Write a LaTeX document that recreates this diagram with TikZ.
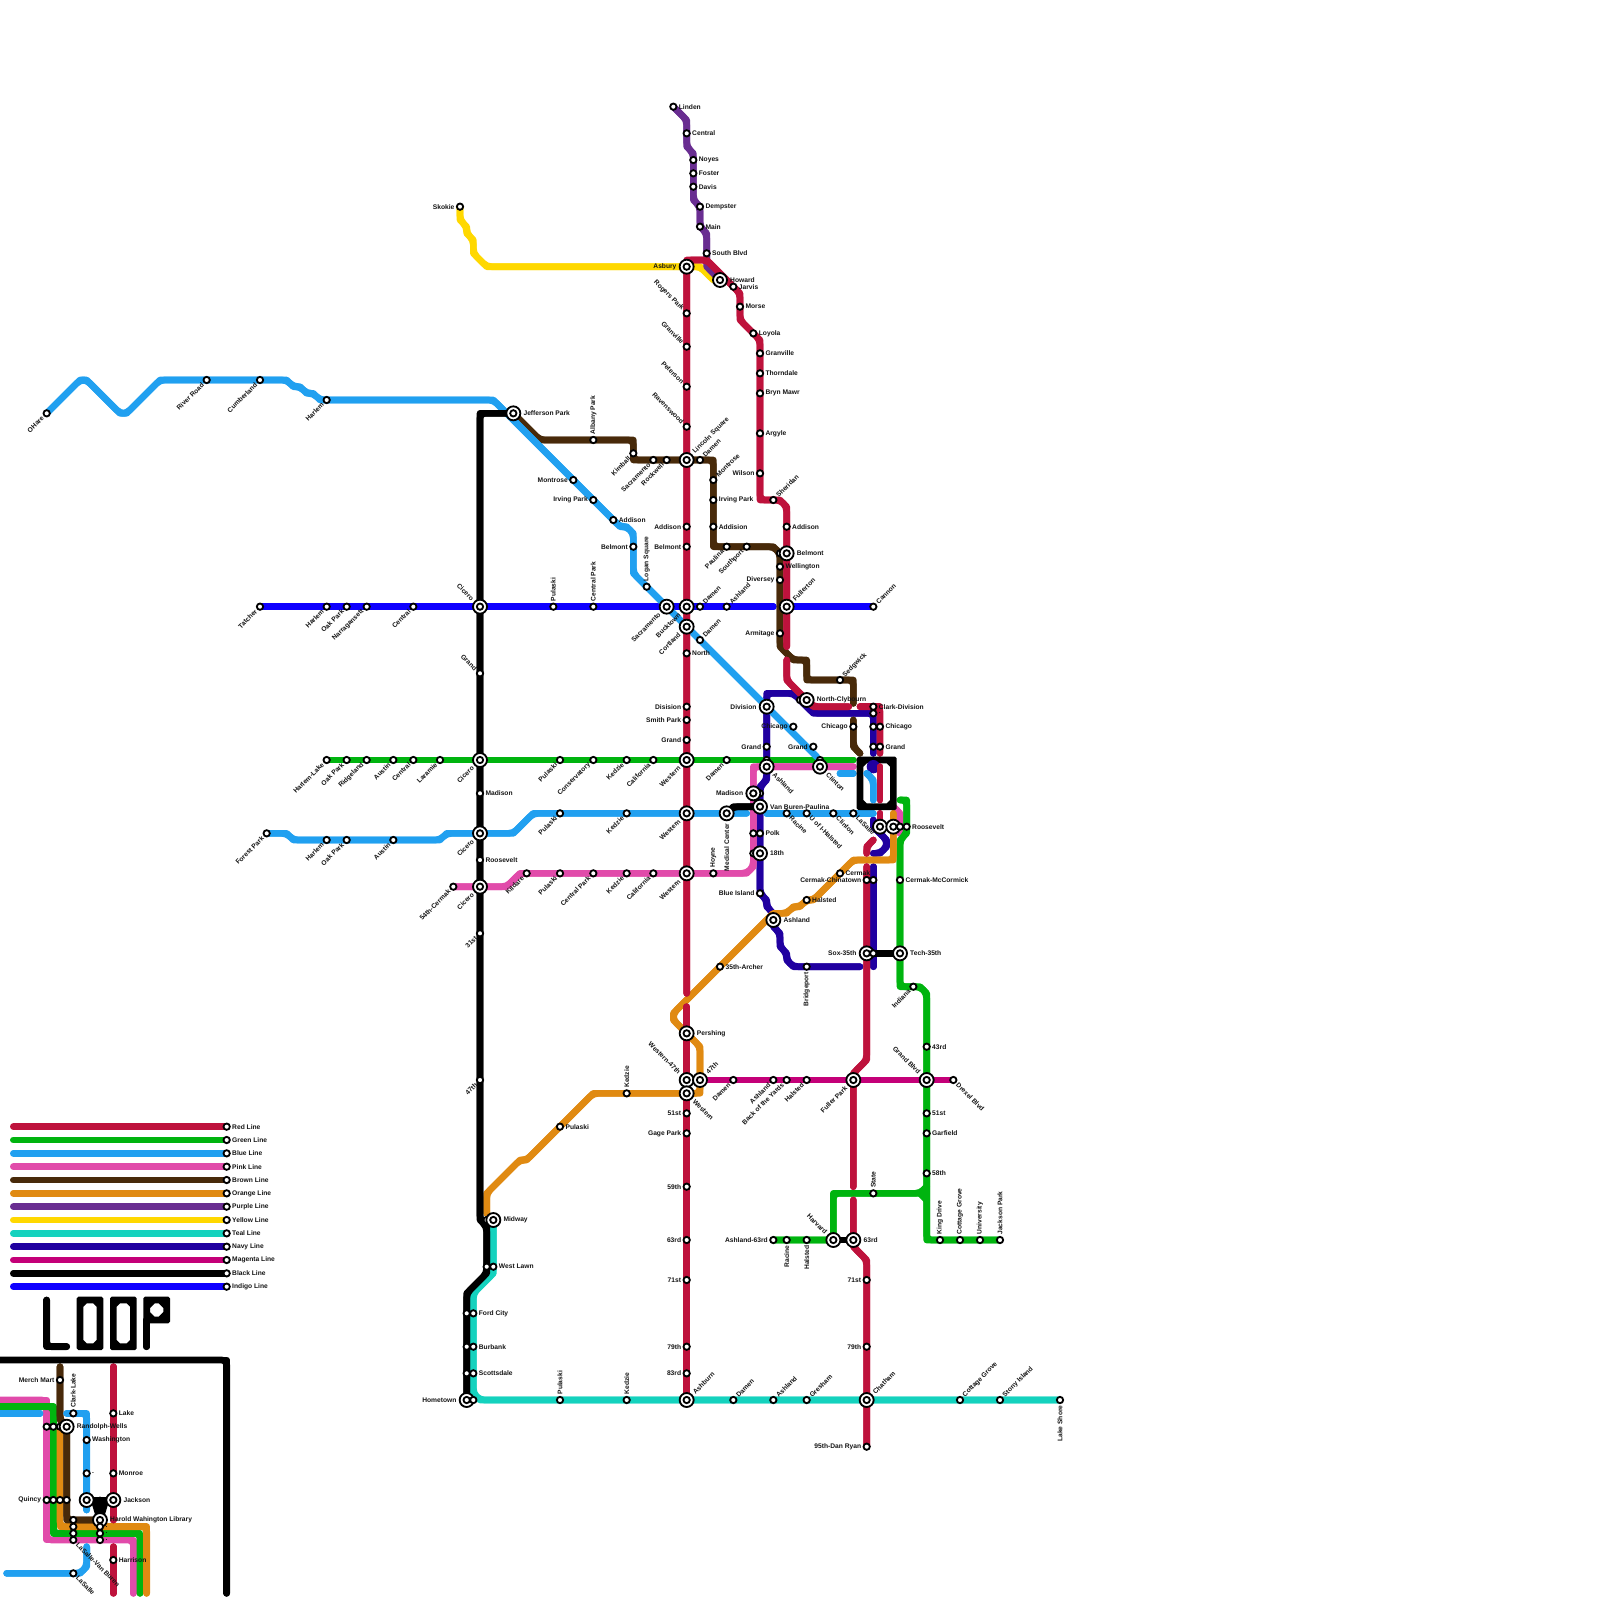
\documentclass[tikz,border=0pt]{standalone}
\usepackage{fontspec}
\setmainfont{Liberation Sans}
\definecolor{cRed}{RGB}{190,18,60}
\definecolor{cGreen}{RGB}{0,180,15}
\definecolor{cBlue}{RGB}{33,160,240}
\definecolor{cPink}{RGB}{225,75,170}
\definecolor{cBrown}{RGB}{72,42,10}
\definecolor{cOrange}{RGB}{224,138,18}
\definecolor{cPurple}{RGB}{105,45,145}
\definecolor{cYellow}{RGB}{255,216,0}
\definecolor{cTeal}{RGB}{20,210,190}
\definecolor{cNavy}{RGB}{32,0,160}
\definecolor{cMagenta}{RGB}{196,0,120}
\definecolor{cIndigo}{RGB}{15,0,255}
\newcounter{sc}
\def\lo{.8}
\tikzset{
 trkline/.style={line width=.2cm,line cap=round,line join=round},
 smallst/.style={circle,draw=black,fill=white,line width=.055cm,minimum size=.19cm,inner sep=0pt},
 bigst/.style={circle,draw=black,fill=white,line width=.055cm,minimum size=.42cm,inner sep=0pt},
 lab/.style={inner sep=0pt,font=\fontsize{5.7}{6}\selectfont\bfseries,text=black!92},
 lR/.style={shift={(\lo,0)},anchor=west},
 lL/.style={shift={(-\lo,0)},anchor=east},
 lA/.style={shift={(0,-\lo)},rotate=90,anchor=west},
 lB/.style={shift={(0,\lo)},rotate=90,anchor=east},
 lNE/.style={shift={(.707*\lo,-.707*\lo)},rotate=45,anchor=west},
 lSW/.style={shift={(-.707*\lo,.707*\lo)},rotate=45,anchor=east},
 lNW/.style={shift={(-.707*\lo,-.707*\lo)},rotate=-45,anchor=east},
 lSE/.style={shift={(.707*\lo,.707*\lo)},rotate=-45,anchor=west},
}
\newcommand\trk[2]{\draw[trkline,#1] #2;\draw[trkline,#1,rounded corners=.14cm] #2;}
\newcommand\putlab[4]{\if\relax\detokenize{#4}\relax\else\node[lab,l#3] (t\thesc) at (#1,#2) {#4};\fi}
\newcommand\stn[4]{\stepcounter{sc}\def\lo{.8}\node[smallst] (s\thesc) at (#1,#2) {};\putlab{#1}{#2}{#3}{#4}}
\newcommand\hubn[4]{\stepcounter{sc}\def\lo{1.5}\node[bigst] (h\thesc) at (#1,#2) {};\node[smallst] (s\thesc) at (#1,#2) {};\putlab{#1}{#2}{#3}{#4}}
\begin{document}
\begin{tikzpicture}[x=.2cm,y=-.2cm]
\useasboundingbox (0,0) rectangle (240,240);
% legend
\foreach \yy/\cc in {169/cRed,171/cGreen,173/cBlue,175/cPink,177/cBrown,179/cOrange,181/cPurple,183/cYellow,185/cTeal,187/cNavy,189/cMagenta,191/black,193/cIndigo}{
 \draw[trkline,\cc] (2,\yy) -- (34,\yy);
}
% yellow
\trk{cYellow}{(69,31)--(69,33)--(70,34)--(70,35)--(71,36)--(71,38)--(73,40)--(105,40)--(107,42)--(108,42)}
% purple
\trk{cPurple}{(101,16)--(103,18)--(103,22)--(104,23)--(104,30)--(105,31)--(105,34)--(106,35)--(106,40)--(108,42)}
% teal
\trk{cTeal}{(74,183)--(74,191)--(71,194)--(71,209)--(72,210)--(159,210)}
% magenta
\trk{cMagenta}{(103,162)--(143,162)}
% indigo
\trk{cIndigo}{(39,91)--(116,91)}
\trk{cIndigo}{(118,91)--(131,91)}
% navy
\trk{cNavy}{(131,113)--(131,107)--(122,107)--(119,104)--(115,104)--(115,117)--(114,118)--(114,134)--(115,135)--(115,136)--(116,137)--(116,139)--(117,140)--(117,142)--(118,143)--(118,144)--(119,145)--(129,145)}
\trk{cNavy}{(131,123)--(131,124)--(133,126)--(133,127)--(132,128)--(131,128)}
\trk{cNavy}{(131,130)--(131,145)}
% pink
\trk{cPink}{(-1,210)--(7,210)--(7,231)--(20,231)--(20,239)}
\trk{cPink}{(68,133)--(76,133)--(78,131)--(112,131)--(113,130)--(113,115)--(128,115)}
\trk{cPink}{(134,121)--(135,122)--(135,125)}
% green
\trk{cGreen}{(-1,211)--(8,211)--(8,230)--(21,230)--(21,239)}
\trk{cGreen}{(49,114)--(128,114)}
\trk{cGreen}{(135,120)--(136,120)--(136,125)--(135,126)--(135,148)--(138,148)--(139,149)--(139,186)--(150,186)}
\trk{cGreen}{(139,178)--(138,179)--(125,179)--(125,186)--(116,186)}
\draw[trkline,cGreen] (138,179) -- (139,180);
% orange
\trk{cOrange}{(9,214)--(9,229)--(22,229)--(22,239)}
\trk{cOrange}{(73,182)--(73,179)--(78,174)--(79,174)--(89,164)--(105,164)--(105,157)--(103,155)--(101,153)--(101,152)--(116,137)--(118,137)--(119,136)--(120,136)--(121,135)--(122,135)--(128,129)--(134,129)--(134,122)}
% brown
\trk{cBrown}{(9,205)--(9,213)--(10,214)--(10,228)--(15,228)}
\trk{cBrown}{(77,62)--(81,66)--(95,66)--(95,69)--(107,69)--(107,82)--(116,82)--(117,83)--(117,97)--(119,99)--(121,99)--(121,102)--(128,102)--(128,105.5)}
\trk{cBrown}{(128,108)--(128,112)--(129,113)}
% blue
\trk{cBlue}{(7,62)--(12,57)--(13,57)--(18,62)--(19,62)--(24,57)--(43,57)--(44,58)--(45,58)--(46,59)--(47,59)--(48,60)--(74,60)--(92,78)--(93,79)--(94,79)--(95,80)--(95,86)--(122.5,113.5)}
\trk{cBlue}{(40,125)--(43,125)--(44,126)--(66,126)--(67,125)--(77,125)--(80,122)--(112,122)}
\trk{cBlue}{(115,122)--(131,122)}
\trk{cBlue}{(-1,212)--(6,212)}
\trk{cBlue}{(10,212)--(13,212)--(13,226.5)}
\trk{cBlue}{(1,236)--(12,236)--(13,235)--(13,232)}
\trk{cBlue}{(126,116)--(128,116)}
% red
\trk{cRed}{(103,149)--(103,39)--(106,39)--(110,43)--(111,44)--(111,48)--(114,51)--(114,75)--(117,75)--(118,76)--(118,97)}
\trk{cRed}{(103,151)--(103,210)}
\trk{cRed}{(118,99)--(118,102)--(121,105)--(122,106)--(127.3,106)}
\trk{cRed}{(129,106)--(132,106)--(132,113)}
\trk{cRed}{(132,122)--(132,124)}
\trk{cRed}{(131,126)--(130,127)--(130,128)}
\trk{cRed}{(130,130)--(130,159)--(128,161)--(128,178)}
\trk{cRed}{(128,180)--(128,187)--(130,189)--(130,217)}
\trk{cRed}{(17,205)--(17,228)}
\trk{cRed}{(17,232)--(17,239)}
% black
\trk{black}{(-1,204)--(34,204)--(34,239)}
\trk{black}{(77,62)--(72,62)--(72,183)--(73,184)--(73,191)--(70,194)--(70,210)}
\trk{black}{(109,122)--(110,121)--(114,121)}
\trk{black}{(125,186)--(128,186)}
\trk{black}{(131,143)--(135,143)}
\trk{black}{(13,225)--(17,225)}
\trk{black}{(15,225)--(15,228)}
\fill[black] (13.6,225) -- (14.5,228) -- (15.5,228) -- (16.4,225) -- cycle;
% central loop block
\fill[black,even odd rule] [rounded corners=.05cm] (128.5,113.5) rectangle (134.5,121.5) [sharp corners] (130,114.5)--(133,114.5)--(133.5,115)--(133.5,120)--(133,120.5)--(130,120.5)--(129.5,120)--(129.5,115)--cycle;
\fill[cNavy] (131,115) circle (1);
\trk{cBlue}{(130,116)--(131,117)--(131,120)}
\trk{cRed}{(132,115)--(132,120)}
% LOOP
\trk{black}{(7,195)--(7,202)--(10,202)}
\fill[black,even odd rule] [rounded corners=.05cm] (11.5,194.5) rectangle (15.5,202.5) [sharp corners] (13,195.5)--(14,195.5)--(14.5,196)--(14.5,201)--(14,201.5)--(13,201.5)--(12.5,201)--(12.5,196)--cycle;
\fill[black,even odd rule] [rounded corners=.05cm] (16.5,194.5) rectangle (20.5,202.5) [sharp corners] (18,195.5)--(19,195.5)--(19.5,196)--(19.5,201)--(19,201.5)--(18,201.5)--(17.5,201)--(17.5,196)--cycle;
\fill[black,even odd rule] [rounded corners=.05cm] (21.5,194.5) rectangle (25.5,198.5) [sharp corners] (23.2,195.5)--(23.8,195.5)--(24.5,196.2)--(24.5,196.8)--(23.8,197.5)--(23.2,197.5)--(22.5,196.8)--(22.5,196.2)--cycle;
\trk{black}{(22,198)--(22,202)}
% legend stations
\stn{34}{169}{R}{Red Line}\stn{34}{171}{R}{Green Line}\stn{34}{173}{R}{Blue Line}\stn{34}{175}{R}{Pink Line}
\stn{34}{177}{R}{Brown Line}\stn{34}{179}{R}{Orange Line}\stn{34}{181}{R}{Purple Line}\stn{34}{183}{R}{Yellow Line}
\stn{34}{185}{R}{Teal Line}\stn{34}{187}{R}{Navy Line}\stn{34}{189}{R}{Magenta Line}\stn{34}{191}{R}{Black Line}\stn{34}{193}{R}{Indigo Line}
% loop stations
\stn{9}{207}{L}{Merch Mart}\stn{11}{212}{A}{Clark-Lake}\stn{17}{212}{R}{Lake}
\stn{7}{214}{R}{}\stn{8}{214}{R}{}\stn{9}{214}{R}{}\hubn{10}{214}{R}{Randolph-Wells}
\stn{13}{216}{R}{Washington}\stn{13}{221}{R}{.}\stn{17}{221}{R}{Monroe}
\stn{7}{225}{L}{Quincy}\stn{8}{225}{R}{}\stn{9}{225}{R}{}\stn{10}{225}{R}{}
\hubn{13}{225}{R}{}\hubn{17}{225}{R}{Jackson}
\stn{11}{228}{R}{}\stn{11}{229}{R}{}\stn{11}{230}{R}{}\stn{11}{231}{SE}{LaSalle-Van Buren}
\hubn{15}{228}{R}{Harold Wahington Library}\stn{15}{229}{R}{.}\stn{15}{230}{R}{.}\stn{15}{231}{R}{.}
\stn{17}{234}{R}{Harrison}\stn{11}{236}{SE}{LaSalle}
% yellow/purple
\stn{69}{31}{L}{Skokie}\stn{101}{16}{R}{Linden}\stn{103}{20}{R}{Central}\stn{104}{24}{R}{Noyes}\stn{104}{26}{R}{Foster}\stn{104}{28}{R}{Davis}\stn{105}{31}{R}{Dempster}\stn{105}{34}{R}{Main}\stn{106}{38}{R}{South Blvd}
\hubn{103}{40}{L}{Asbury}\hubn{108}{42}{R}{\raisebox{.5pt}{Howard}}
\stn{110}{43}{R}{Jarvis}\stn{111}{46}{R}{Morse}\stn{113}{50}{R}{Loyola}\stn{114}{53}{R}{Granville}\stn{114}{56}{R}{Thorndale}\stn{114}{59}{R}{Bryn Mawr}\stn{114}{65}{R}{Argyle}\stn{114}{71}{L}{Wilson}
\stn{116}{75}{NE}{Sheridan}\stn{118}{79}{R}{Addison}\stn{117}{83}{R}{}\hubn{118}{83}{R}{Belmont}\stn{117}{85}{R}{Wellington}\stn{117}{87}{L}{Diversey}\hubn{118}{91}{NE}{Fullerton}\stn{117}{95}{L}{Armitage}
\stn{131}{91}{NE}{Cannon}\stn{126}{102}{NE}{Sedgwick}\stn{120}{105}{R}{}\hubn{121}{105}{R}{North-Clybourn}
% west red
\stn{103}{47}{NW}{Rogers Park}\stn{103}{52}{NW}{Granville}\stn{103}{58}{NW}{Peterson}\stn{103}{64}{NW}{Ravenswood}
\hubn{103}{69}{NE}{Lincoln Square}\stn{105}{69}{NE}{Damen}\stn{107}{72}{NE}{Montrose}\stn{107}{75}{R}{Irving Park}\stn{107}{79}{R}{Addision}
\stn{109}{82}{SW}{Paulina}\stn{112}{82}{SW}{Southport}
\stn{103}{79}{L}{Addison}\stn{103}{82}{L}{Belmont}
\hubn{100}{91}{SW}{Sacramento}\hubn{103}{91}{SW}{Bucktown}\hubn{103}{94}{SW}{Cortland}\stn{105}{91}{NE}{Damen}\stn{109}{91}{NE}{Ashland}\stn{105}{96}{NE}{Damen}
\stn{103}{98}{R}{North}\stn{103}{106}{L}{Disision}\stn{103}{108}{L}{Smith Park}\stn{103}{111}{L}{Grand}
% brown/blue north-west
\hubn{77}{62}{R}{Jefferson Park}\stn{89}{66}{A}{Albany Park}\stn{95}{68}{SW}{Kimball}\stn{98}{69}{SW}{Sacramento}\stn{100}{69}{SW}{Rockwell}
\stn{86}{72}{L}{Montrose}\stn{89}{75}{L}{Irving Park}\stn{92}{78}{R}{Addison}\stn{95}{82}{L}{Belmont}\stn{97}{88}{A}{Logan Square}
\stn{7}{62}{SW}{OHare}\stn{31}{57}{SW}{River Road}\stn{39}{57}{SW}{Cumberland}\stn{49}{60}{SW}{Harlem}
% indigo
\stn{39}{91}{SW}{Tatcher}\stn{49}{91}{SW}{Harlem}\stn{52}{91}{SW}{Oak Park}\stn{55}{91}{SW}{Narragansett}\stn{62}{91}{SW}{Central}\hubn{72}{91}{NW}{Cicero}\stn{83}{91}{A}{Pulaski}\stn{89}{91}{A}{Central Park}
\stn{72}{101}{NW}{Grand}
% green
\stn{49}{114}{SW}{Harlem-Lake}\stn{52}{114}{SW}{Oak Park}\stn{55}{114}{SW}{Ridgeland}\stn{59}{114}{SW}{Austin}\stn{62}{114}{SW}{Central}\stn{66}{114}{SW}{Laramie}\hubn{72}{114}{SW}{Cicero}\stn{84}{114}{SW}{Pulaski}\stn{89}{114}{SW}{Conservatory}\stn{94}{114}{SW}{Kedzie}\stn{98}{114}{SW}{California}\hubn{103}{114}{SW}{Western}\stn{109}{114}{SW}{Damen}
\hubn{115}{106}{L}{Division}\stn{119}{109}{L}{Chicago}\stn{115}{112}{L}{Grand}\stn{122}{112}{L}{Grand}
\stn{115}{114}{R}{}\hubn{115}{115}{SE}{Ashland}\stn{123}{114}{R}{}\hubn{123}{115}{SE}{Clinton}
\stn{128}{109}{L}{Chicago}\stn{131}{106}{R}{Clark-Division}\stn{131}{107}{R}{.}\stn{131}{109}{R}{}\stn{132}{109}{R}{Chicago}\stn{131}{112}{R}{}\stn{132}{112}{R}{Grand}
% forest park blue
\stn{40}{125}{SW}{Forest Park}\stn{49}{126}{SW}{Harlem}\stn{52}{126}{SW}{Oak Park}\stn{59}{126}{SW}{Austin}\stn{72}{119}{R}{Madison}\hubn{72}{125}{SW}{Cicero}\stn{72}{129}{R}{Roosevelt}
\stn{84}{122}{SW}{Pulaski}\stn{94}{122}{SW}{Kedzie}\hubn{103}{122}{SW}{Western}\hubn{109}{122}{B}{Medical Center}
\stn{114}{119}{R}{}\hubn{113}{119}{L}{Madison}\hubn{114}{121}{R}{Van Buren-Paulina}\stn{118}{122}{SE}{Racine}\stn{121}{122}{SE}{U of I-Halsted}\stn{125}{122}{SE}{Clinton}\stn{128}{122}{SE}{LaSalle}
\stn{113}{125}{R}{}\stn{114}{125}{R}{Polk}\stn{113}{128}{R}{}\hubn{114}{128}{R}{18th}\stn{114}{134}{L}{Blue Island}
\hubn{132}{124}{R}{}\hubn{134}{124}{R}{}\stn{135}{124}{R}{}\stn{136}{124}{R}{Roosevelt}
% pink
\stn{68}{133}{SW}{54th-Cermak}\hubn{72}{133}{SW}{Cicero}\stn{72}{140}{SW}{31st}\stn{79}{131}{SW}{Kildare}\stn{84}{131}{SW}{Pulaski}\stn{89}{131}{SW}{Central Park}\stn{94}{131}{SW}{Kedzie}\stn{98}{131}{SW}{California}\hubn{103}{131}{SW}{Western}\stn{107}{131}{A}{Hoyne}
% south side
\stn{126}{131}{R}{Cermak}\stn{130}{132}{L}{Cermak-Chinatown}\stn{131}{132}{R}{}\stn{135}{132}{R}{Cermak-McCormick}\stn{121}{135}{R}{Halsted}\hubn{116}{138}{R}{Ashland}
\stn{108}{145}{R}{35th-Archer}\stn{121}{145}{B}{Bridgeport}\hubn{130}{143}{L}{Sox-35th}\stn{131}{143}{R}{}\hubn{135}{143}{R}{Tech-35th}\stn{137}{148}{SW}{Indiana}
\hubn{103}{155}{R}{Pershing}\stn{139}{157}{R}{43rd}
\stn{72}{162}{SW}{47th}\hubn{103}{162}{NW}{Western-47th}\hubn{105}{162}{NE}{47th}\hubn{103}{164}{SE}{Western}
\stn{110}{162}{SW}{Damen}\stn{116}{162}{SW}{Ashland}\stn{118}{162}{SW}{Back of the Yards}\stn{121}{162}{SW}{Halsted}\hubn{128}{162}{SW}{Fuller Park}\hubn{139}{162}{NW}{Grand Blvd}\stn{143}{162}{SE}{Drexel Blvd}
\stn{94}{164}{A}{Kedzie}\stn{84}{169}{R}{Pulaski}
\stn{103}{167}{L}{51st}\stn{103}{170}{L}{Gage Park}\stn{103}{178}{L}{59th}\stn{103}{186}{L}{63rd}\stn{103}{192}{L}{71st}\stn{103}{202}{L}{79th}\stn{103}{206}{L}{83rd}\hubn{103}{210}{NE}{Ashburn}
\stn{139}{167}{R}{51st}\stn{139}{170}{R}{Garfield}\stn{139}{176}{R}{58th}\stn{131}{179}{A}{State}
\stn{116}{186}{L}{Ashland-63rd}\stn{118}{186}{B}{Racine}\stn{121}{186}{B}{Halsted}\hubn{125}{186}{NW}{Harvard}\hubn{128}{186}{R}{63rd}
\stn{141}{186}{A}{King Drive}\stn{144}{186}{A}{Cottage Grove}\stn{147}{186}{A}{University}\stn{150}{186}{A}{Jackson Park}
\stn{130}{192}{L}{71st}\stn{130}{202}{L}{79th}\hubn{130}{210}{NE}{Chatham}\stn{130}{217}{L}{95th-Dan Ryan}
% teal
\stn{73}{183}{R}{}\hubn{74}{183}{R}{Midway}\stn{73}{190}{R}{}\stn{74}{190}{R}{West Lawn}\stn{70}{197}{R}{}\stn{71}{197}{R}{Ford City}\stn{70}{202}{R}{}\stn{71}{202}{R}{Burbank}\stn{70}{206}{R}{}\stn{71}{206}{R}{Scottsdale}
\hubn{70}{210}{L}{Hometown}\stn{71}{210}{R}{}
\stn{84}{210}{A}{Pulaski}\stn{94}{210}{A}{Kedzie}\stn{110}{210}{NE}{Damen}\stn{116}{210}{NE}{Ashland}\stn{121}{210}{NE}{Gresham}\stn{144}{210}{NE}{Cottage Grove}\stn{150}{210}{NE}{Stony Island}\stn{159}{210}{B}{Lake Shore}
\end{tikzpicture}
\end{document}
